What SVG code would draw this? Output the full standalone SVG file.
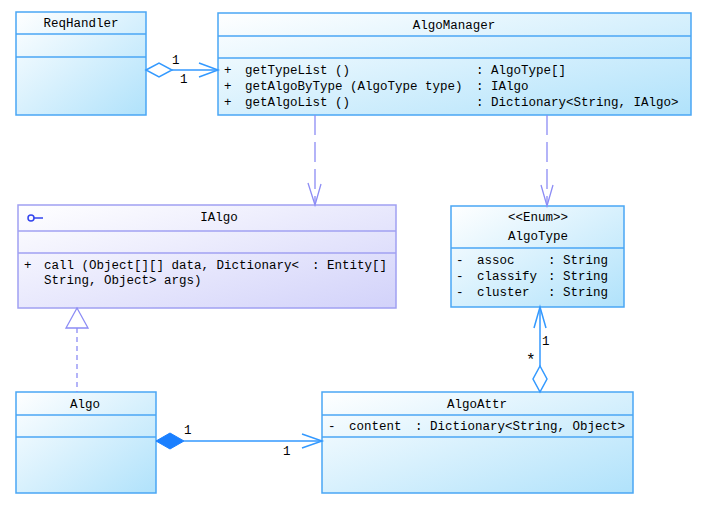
<svg xmlns="http://www.w3.org/2000/svg" width="706" height="514" viewBox="0 0 706 514">
<defs>
<linearGradient id="gb" x1="0" y1="0" x2="1" y2="1">
<stop offset="0" stop-color="#ffffff"/>
<stop offset="1" stop-color="#b0e2fb"/>
</linearGradient>
<linearGradient id="gp" x1="0" y1="0" x2="1" y2="1">
<stop offset="0" stop-color="#ffffff"/>
<stop offset="1" stop-color="#d2d2fa"/>
</linearGradient>
<style>
.box{fill:url(#gb);stroke:#4aa6f5;stroke-width:1.5}
.ibox{fill:url(#gp);stroke:#a0a0f2;stroke-width:1.5}
.div{stroke:#4aa6f5;stroke-width:1.5}
.idiv{stroke:#a0a0f2;stroke-width:1.5}
text{font-family:"Liberation Mono","DejaVu Sans Mono",monospace;font-size:12.5px;fill:#000}
.c{text-anchor:middle}
.sol{stroke:#3399ff;stroke-width:1.5;fill:none}
.dep{stroke:#8c8cf5;stroke-width:1.3;fill:none}
</style>
</defs>
<rect width="706" height="514" fill="#fff"/>

<g id="ReqHandler">
<rect class="box" x="16" y="12" width="130" height="103"/>
<line class="div" x1="16" y1="34" x2="146" y2="34"/>
<line class="div" x1="16" y1="57" x2="146" y2="57"/>
<text class="c" x="81" y="27">ReqHandler</text>
</g>

<g id="AlgoManager">
<rect class="box" x="218" y="13" width="473" height="102"/>
<line class="div" x1="218" y1="36" x2="691" y2="36"/>
<line class="div" x1="218" y1="58" x2="691" y2="58"/>
<text class="c" x="454" y="29">AlgoManager</text>
<text x="224" y="74">+</text><text x="245" y="74">getTypeList ()</text><text x="476" y="74">: AlgoType[]</text>
<text x="224" y="90">+</text><text x="245" y="90">getAlgoByType (AlgoType type)</text><text x="476" y="90">: IAlgo</text>
<text x="224" y="106">+</text><text x="245" y="106">getAlgoList ()</text><text x="476" y="106">: Dictionary&lt;String, IAlgo&gt;</text>
</g>

<g id="IAlgo">
<rect class="ibox" x="18" y="205" width="378" height="103"/>
<line class="idiv" x1="18" y1="231" x2="396" y2="231"/>
<line class="idiv" x1="18" y1="253" x2="396" y2="253"/>
<circle cx="31" cy="218" r="3" fill="none" stroke="#3344ee" stroke-width="1.5"/>
<line x1="34" y1="218" x2="43" y2="218" stroke="#3344ee" stroke-width="1.5"/>
<text class="c" x="219" y="221">IAlgo</text>
<text x="24" y="269">+</text><text x="44" y="269">call (Object[][] data, Dictionary&lt;</text><text x="312" y="269">: Entity[]</text>
<text x="44" y="284">String, Object&gt; args)</text>
</g>

<g id="AlgoType">
<rect class="box" x="451" y="206" width="173" height="101"/>
<line class="div" x1="451" y1="248" x2="624" y2="248"/>
<text class="c" x="538" y="221">&lt;&lt;Enum&gt;&gt;</text>
<text class="c" x="538" y="240">AlgoType</text>
<text x="456" y="264">-</text><text x="477" y="264">assoc</text><text x="548" y="264">: String</text>
<text x="456" y="280">-</text><text x="477" y="280">classify</text><text x="548" y="280">: String</text>
<text x="456" y="296">-</text><text x="477" y="296">cluster</text><text x="548" y="296">: String</text>
</g>

<g id="Algo">
<rect class="box" x="16" y="392" width="140" height="101"/>
<line class="div" x1="16" y1="415" x2="156" y2="415"/>
<line class="div" x1="16" y1="437" x2="156" y2="437"/>
<text class="c" x="85" y="408">Algo</text>
</g>

<g id="AlgoAttr">
<rect class="box" x="322" y="392" width="311" height="101"/>
<line class="div" x1="322" y1="415" x2="633" y2="415"/>
<line class="div" x1="322" y1="437" x2="633" y2="437"/>
<text class="c" x="477" y="408">AlgoAttr</text>
<text x="328" y="430">-</text><text x="349" y="430">content</text><text x="415" y="430">: Dictionary&lt;String, Object&gt;</text>
</g>

<g id="connectors">
<!-- ReqHandler -> AlgoManager aggregation -->
<polygon class="sol" points="146,70 159,63 172,70 159,77" fill="#fff"/>
<line class="sol" x1="172" y1="70" x2="218" y2="70"/>
<polyline class="sol" points="199,63 218,70 199,77"/>
<text x="172" y="64">1</text>
<text x="180" y="83">1</text>

<!-- AlgoManager -> IAlgo dependency -->
<line class="dep" x1="315" y1="115" x2="315" y2="204" stroke-dasharray="20,7"/>
<polyline class="dep" points="308,183 315,205 321,184"/>

<!-- AlgoManager -> AlgoType dependency -->
<line class="dep" x1="547" y1="115" x2="547" y2="205" stroke-dasharray="20,7"/>
<polyline class="dep" points="541,185 547,206 553,185"/>

<!-- Algo -> IAlgo realization -->
<line class="dep" x1="77" y1="328" x2="77" y2="392" stroke-dasharray="5,4"/>
<polygon class="dep" points="77,308 66,328 88,328" fill="#fff"/>

<!-- Algo -> AlgoAttr composition -->
<polygon points="156,441 170,433 184,441 170,449" fill="#1a7fff" stroke="#1a7fff" stroke-width="1"/>
<line class="sol" x1="184" y1="441" x2="322" y2="441"/>
<polyline class="sol" points="302,434 322,441 302,448"/>
<text x="184" y="434">1</text>
<text x="283" y="455">1</text>

<!-- AlgoAttr -> AlgoType aggregation -->
<polygon class="sol" points="540,392 533,379 540,366 547,379" fill="#fff"/>
<line class="sol" x1="540" y1="366" x2="540" y2="307"/>
<polyline class="sol" points="534,328 540,307 546,328"/>
<text x="542" y="345">1</text>
<text x="526" y="365" style="font-size:16px">*</text>
</g>
</svg>
